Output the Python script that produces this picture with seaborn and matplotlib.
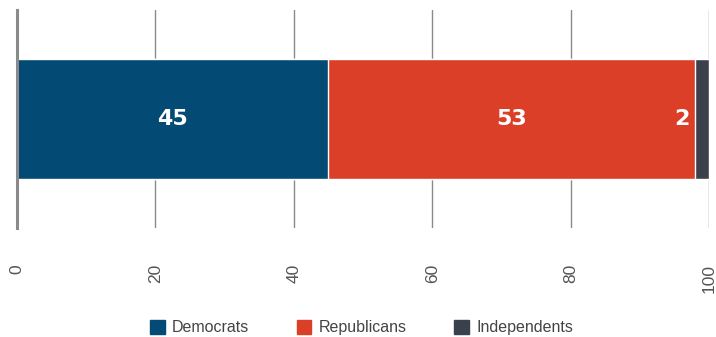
import matplotlib
matplotlib.use("Agg")
import matplotlib.pyplot as plt
from matplotlib.patches import Patch
import pandas as pd
import seaborn as sns

parties = ["Democrats", "Republicans", "Independents"]
seats = [45, 53, 2]
colors = ["#034a74", "#db3f28", "#3b414c"]
ticks = [0, 20, 40, 60, 80, 100]

sns.set_style("white")
plt.rcParams["font.family"] = ["Liberation Sans", "DejaVu Sans"]

df = pd.DataFrame({"party": parties, "seats": seats})
df["end"] = df["seats"].cumsum()
df["start"] = df["end"] - df["seats"]
df["row"] = "Senate"

fig = plt.figure(figsize=(7.16, 3.37), dpi=100)
ax = fig.add_axes([17 / 716, 1 - 228 / 337, 692 / 716, 218 / 337])

# stacked bar: draw cumulative totals from the largest down
for i in reversed(range(len(parties))):
    sns.barplot(data=df.iloc[[i]], x="end", y="row", color=colors[i],
                width=0.55, ax=ax, zorder=3, saturation=1, orient="h")

ax.set_xlim(0, 100)
ax.set_ylim(0.5, -0.5)
ax.set_xticks(ticks)
ax.set_xticklabels([str(t) for t in ticks], rotation=90, fontsize=12.5, color="#555555",
                   va="top", ha="center")
ax.tick_params(axis="x", length=0, pad=26)
ax.set_yticks([])
ax.set_xlabel("")
ax.set_ylabel("")
ax.xaxis.grid(True, color="#8a8a8a", linewidth=1, zorder=0)
for s in ["top", "right", "bottom"]:
    ax.spines[s].set_visible(False)
ax.spines["left"].set_color("#8a8a8a")
ax.spines["left"].set_linewidth(2.2)
ax.spines["left"].set_zorder(4)

for i, row in df.iterrows():
    if row["seats"] >= 10:
        ax.text((row["start"] + row["end"]) / 2, 0, str(row["seats"]), ha="center", va="center",
                color="white", fontsize=16, fontweight="bold", family="DejaVu Sans", zorder=5)
    else:
        ax.annotate(str(row["seats"]), xy=(row["start"], 0), xytext=(-4, 0),
                    textcoords="offset points", ha="right", va="center", color="white",
                    fontsize=16, fontweight="bold", family="DejaVu Sans", zorder=5)

handles = [Patch(facecolor=c, edgecolor=c, label=p) for p, c in zip(parties, colors)]
leg = fig.legend(handles=handles, loc="lower center", bbox_to_anchor=(0.505, -0.005), ncol=3,
                 frameon=False, fontsize=11.5, handlelength=0.9, handleheight=0.9,
                 handletextpad=0.45, columnspacing=3.0, borderaxespad=0.1, borderpad=0.1)
for t in leg.get_texts():
    t.set_color("#444444")

fig.savefig("out.png", dpi=100)
